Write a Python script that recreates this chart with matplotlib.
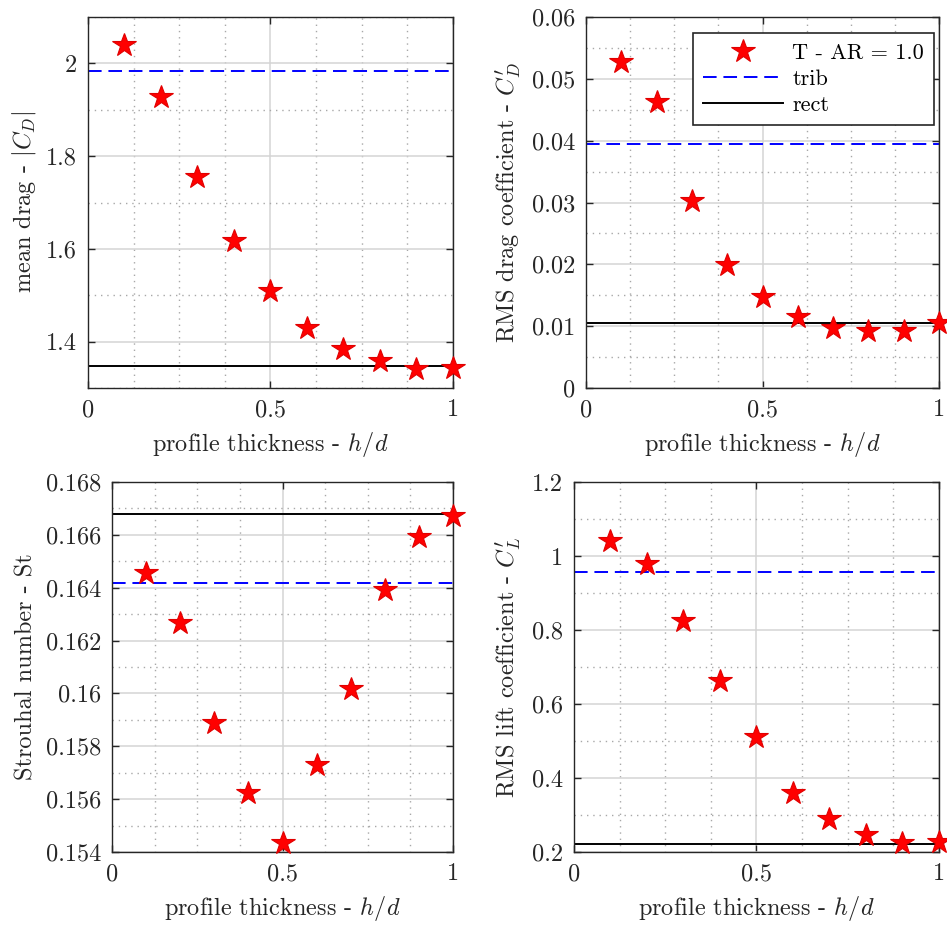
import matplotlib
matplotlib.use("Agg")
import matplotlib.pyplot as plt
from matplotlib.ticker import MultipleLocator, FixedLocator
from matplotlib.lines import Line2D

plt.rcParams["font.family"] = "cmr10"
plt.rcParams["mathtext.fontset"] = "cm"
plt.rcParams["axes.formatter.use_mathtext"] = True
plt.rcParams["font.size"] = 17.5

# profile thickness h/d
thickness = [0.1, 0.2, 0.3, 0.4, 0.5, 0.6, 0.7, 0.8, 0.9, 1.0]

# T-section results (AR = 1.0)
mean_drag = [2.040, 1.927, 1.756, 1.618, 1.509, 1.429, 1.384, 1.358, 1.340, 1.344]
rms_drag = [0.0527, 0.0462, 0.0302, 0.0199, 0.0147, 0.0115, 0.0097, 0.0092, 0.0092, 0.0105]
strouhal = [0.16456, 0.16267, 0.15888, 0.15624, 0.15434, 0.15728, 0.16017, 0.16393, 0.16591, 0.16673]
rms_lift = [1.040, 0.977, 0.823, 0.661, 0.510, 0.360, 0.290, 0.245, 0.224, 0.226]

# reference values: tributary (trib) and rectangular (rect) sections
trib_ref = {"mean_drag": 1.983, "rms_drag": 0.0394, "strouhal": 0.16419, "rms_lift": 0.958}
rect_ref = {"mean_drag": 1.347, "rms_drag": 0.0105, "strouhal": 0.16678, "rms_lift": 0.2225}

ylabels = {
    "mean_drag": r"mean drag - $|C_D|$",
    "rms_drag": r"RMS drag coefficient - $C_D'$",
    "strouhal": r"Strouhal number - St",
    "rms_lift": r"RMS lift coefficient - $C_L'$",
}
ylims = {
    "mean_drag": (1.3, 2.1),
    "rms_drag": (0.0, 0.06),
    "strouhal": (0.154, 0.168),
    "rms_lift": (0.2, 1.2),
}
yticks = {
    "mean_drag": [1.4, 1.6, 1.8, 2.0],
    "rms_drag": [0, 0.01, 0.02, 0.03, 0.04, 0.05, 0.06],
    "strouhal": [0.154, 0.156, 0.158, 0.16, 0.162, 0.164, 0.166, 0.168],
    "rms_lift": [0.2, 0.4, 0.6, 0.8, 1.0, 1.2],
}
yticklabels = {
    "mean_drag": ["1.4", "1.6", "1.8", "2"],
    "rms_drag": ["0", "0.01", "0.02", "0.03", "0.04", "0.05", "0.06"],
    "strouhal": ["0.154", "0.156", "0.158", "0.16", "0.162", "0.164", "0.166", "0.168"],
    "rms_lift": ["0.2", "0.4", "0.6", "0.8", "1", "1.2"],
}
yminor = {"mean_drag": 0.1, "rms_drag": 0.005, "strouhal": 0.001, "rms_lift": 0.1}
series = {"mean_drag": mean_drag, "rms_drag": rms_drag, "strouhal": strouhal, "rms_lift": rms_lift}

positions = {
    "mean_drag": [0.0929, 0.581, 0.3854, 0.4006],
    "rms_drag": [0.6188, 0.581, 0.3728, 0.4006],
    "strouhal": [0.1183, 0.0799, 0.3601, 0.3996],
    "rms_lift": [0.6061, 0.0799, 0.3854, 0.3996],
}

TXT = "#262626"
fig = plt.figure(figsize=(9.47, 9.26), dpi=100)

for key in ["mean_drag", "rms_drag", "strouhal", "rms_lift"]:
    ax = fig.add_axes(positions[key])
    ax.set_xlim(0, 1)
    ax.set_ylim(*ylims[key])
    ax.xaxis.set_major_locator(FixedLocator([0, 0.5, 1]))
    ax.set_xticklabels(["0", "0.5", "1"])
    ax.xaxis.set_minor_locator(MultipleLocator(0.125))
    ax.yaxis.set_major_locator(FixedLocator(yticks[key]))
    ax.set_yticklabels(yticklabels[key])
    ax.yaxis.set_minor_locator(MultipleLocator(yminor[key]))
    ax.grid(True, which="major", color="#d4d4d4", lw=1.1, ls="-", zorder=0)
    ax.grid(True, which="minor", color="#a8a8a8", lw=1.0, ls=(0, (1, 3.5)), zorder=0)
    ax.set_axisbelow(True)
    ax.tick_params(which="major", direction="in", length=5, width=1, top=True, right=True,
                   colors=TXT, labelcolor=TXT, pad=8)
    ax.tick_params(which="minor", length=0)
    for sp in ax.spines.values():
        sp.set_color(TXT)
        sp.set_linewidth(1.0)

    ax.axhline(trib_ref[key], color="#0000ff", lw=1.4, dashes=(7, 3.5), zorder=2)
    ax.axhline(rect_ref[key], color="black", lw=1.4, zorder=2)
    ax.plot(thickness, series[key], ls="none", marker="*", ms=17.5, mfc="#ff0000",
            mec="#e00000", mew=0.8, zorder=3, clip_on=False)

    ax.set_xlabel(r"profile thickness - $h/d$", color=TXT, labelpad=6)
    ax.set_ylabel(ylabels[key], color=TXT, labelpad=6)

    if key == "rms_drag":
        handles = [
            Line2D([], [], ls="none", marker="*", ms=17.5, mfc="#ff0000", mec="#e00000", mew=0.8),
            Line2D([], [], color="#0000ff", lw=1.4, dashes=(7, 3.5)),
            Line2D([], [], color="black", lw=1.4),
        ]
        leg = ax.legend(handles, ["T - AR = 1.0", "trib", "rect"], loc="upper right",
                        bbox_to_anchor=(0.986, 0.957), borderaxespad=0, frameon=True,
                        fancybox=False, edgecolor=TXT, framealpha=1, handlelength=3.6,
                        labelspacing=0.3, borderpad=0.45, handletextpad=0.4, fontsize=16)
        leg.get_frame().set_linewidth(1.2)
        for t in leg.get_texts():
            t.set_color("black")

fig.savefig("out.png", dpi=100)
